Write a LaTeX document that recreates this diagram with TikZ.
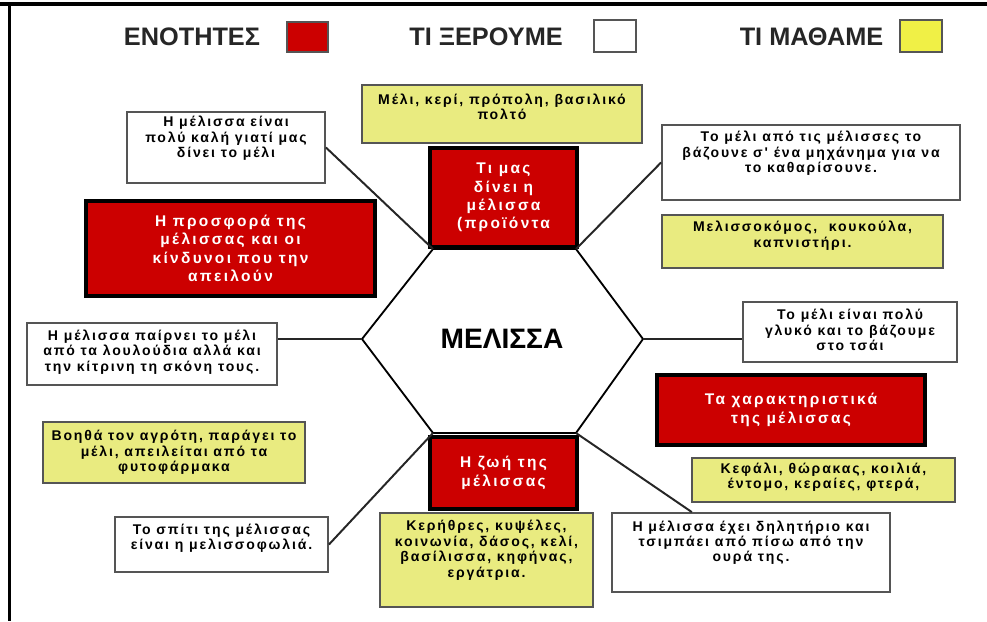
\documentclass[tikz,border=0pt]{standalone}
\usepackage{fontspec}
\setmainfont{Liberation Sans}
\newfontfamily\boxfont[LetterSpace=13]{Liberation Sans}
\newfontfamily\redfont[LetterSpace=15]{Liberation Sans}
\definecolor{beered}{RGB}{204,0,0}
\definecolor{beeyellow}{RGB}{233,235,128}
\definecolor{keyyellow}{RGB}{240,240,70}
\definecolor{boxgray}{RGB}{85,85,85}
\tikzset{
	keybox/.style={draw=boxgray,line width=1.3pt,minimum width=1.05cm,minimum height=0.8cm},
	wbox/.style={draw=boxgray,line width=1.3pt,fill=white,inner sep=0pt},
	ybox/.style={draw=boxgray,line width=1.3pt,fill=beeyellow,inner sep=0pt},
	rbox/.style={draw=black,line width=2.6pt,fill=beered,inner sep=0pt,text=white,align=center,
		font=\redfont\bfseries\fontsize{11}{13.1}\selectfont},
	txt/.style={align=center,inner sep=0pt,font=\boxfont\bfseries\fontsize{10}{11}\selectfont},
	hdr/.style={font=\bfseries\fontsize{18}{20}\selectfont,text=black!85},
	link/.style={line width=1.4pt,color=black!85}
}

\begin{document}
\begin{tikzpicture}[x=0.025cm,y=-0.025cm]
	\useasboundingbox (0,0) rectangle (987,621);
	% frame
	\draw[line width=3.5pt] (0,4) -- (987,4);
	\draw[line width=2.5pt] (9.5,4) -- (9.5,621);
	% key
	\node[hdr] (hdrunits) at (192,37) {ΕΝΟΤΗΤΕΣ};
	\node[keybox,fill=beered,minimum width=1.025cm,minimum height=0.75cm] (keyunits) at (307.5,37) {};
	\node[hdr] (hdrknow) at (486,37) {ΤΙ ΞΕΡΟΥΜΕ};
	\node[keybox,fill=white] (keyknow) at (615,36) {};
	\node[hdr] (hdrlearn) at (811.5,37) {ΤΙ ΜΑΘΑΜΕ};
	\node[keybox,fill=keyyellow] (keylearn) at (921,36) {};

	% hexagon
	\coordinate (hexL) at (362,339);
	\coordinate (hexUL) at (433,249);
	\coordinate (hexUR) at (576,249);
	\coordinate (hexR) at (643,339);
	\coordinate (hexLR) at (576,433);
	\coordinate (hexLL) at (433,433);
	\draw[line width=1.3pt,fill=white] (hexL) -- (hexUL) -- (hexUR) -- (hexR) -- (hexLR) -- (hexLL) -- cycle;
	\node[font=\bfseries\fontsize{20}{22}\selectfont] (bee) at (502,339) {ΜΕΛΙΣΣΑ};

	% what we learn
	\node[ybox,minimum width=7cm,minimum height=1.45cm,label={[txt,yshift=5pt]center:{Μέλι, κερί, πρόπολη, βασιλικό\\πολτό}}] (ytop) at (502,114) {};
	\node[ybox,minimum width=7.025cm,minimum height=1.325cm,label={[txt,yshift=4pt]center:{Μελισσοκόμος,\ \ κουκούλα,\\καπνιστήρι.}}] (yright) at (802.5,241.5) {};
	\node[ybox,minimum width=6.55cm,minimum height=1.525cm,label={[txt]center:{Βοηθά τον αγρότη, παράγει το\\μέλι, απειλείται από τα\\φυτοφάρμακα}}] (yleft) at (174,452.5) {};
	\node[ybox,minimum width=6.575cm,minimum height=1.1cm,label={[txt,yshift=2pt]center:{Κεφάλι, θώρακας, κοιλιά,\\έντομο, κεραίες, φτερά,}}] (yrbot) at (823.5,480) {};
	\node[ybox,minimum width=5.325cm,minimum height=2.35cm,label={[txt,yshift=7pt]center:{Κερήθρες, κυψέλες,\\κοινωνία, δάσος, κελί,\\βασίλισσα, κηφήνας,\\εργάτρια.}}] (ybot) at (486.5,560) {};

	% what we know
	\node[wbox,minimum width=4.95cm,minimum height=1.775cm,label={[txt,yshift=6.5pt]center:{Η μέλισσα είναι\\πολύ καλή γιατί μας\\δίνει το μέλι}}] (wtl) at (226,147.5) {};
	\node[wbox,minimum width=7.45cm,minimum height=1.875cm,label={[txt,yshift=6.5pt]center:{Το μέλι από τις μέλισσες το\\βάζουνε σ' ένα μηχάνημα για να\\το καθαρίσουνε.}}] (wtr) at (811,162.5) {};
	\node[wbox,minimum width=5.35cm,minimum height=1.5cm,label={[txt,yshift=1.5pt]center:{Το μέλι είναι πολύ\\γλυκό και το βάζουμε\\στο τσάι}}] (wright) at (850,332) {};
	\node[wbox,minimum width=6.25cm,minimum height=1.55cm,label={[txt,yshift=1.5pt]center:{Η μέλισσα παίρνει το μέλι\\από τα λουλούδια αλλά και\\την κίτρινη τη σκόνη τους.}}] (wleft) at (152,354) {};
	\node[wbox,minimum width=5.325cm,minimum height=1.375cm,label={[txt,yshift=4.5pt]center:{Το σπίτι της μέλισσας\\είναι η μελισσοφωλιά.}}] (wbl) at (221.5,544.5) {};
	\node[wbox,minimum width=6.95cm,minimum height=1.975cm,label={[txt,yshift=7pt]center:{Η μέλισσα έχει δηλητήριο και\\τσιμπάει από πίσω από την\\ουρά της.}}] (wbr) at (751,552.5) {};

	% units
	\node[rbox,minimum width=3.675cm,minimum height=2.475cm] (rtop) at (503.5,197.5) {Τι μας\\δίνει η\\μέλισσα\\(προϊόντα};
	\node[rbox,minimum width=7.225cm,minimum height=2.375cm] (rleft) at (230.5,248.5) {Η προσφορά της\\μέλισσας και οι\\κίνδυνοι που την\\απειλούν};
	\node[rbox,minimum width=6.7cm,minimum height=1.75cm] (rright) at (791,410) {Τα χαρακτηριστικά\\της μέλισσας};
	\node[rbox,minimum width=3.675cm,minimum height=1.8cm] (rbot) at (503.5,473) {Η ζωή της\\μέλισσας};

	% links
	\draw[link] (wtl.east) -- (hexUL);
	\draw[link] (wtr.west) -- (hexUR);
	\draw[link] (hexR) -- (hexR -| wright.west);
	\draw[link] (hexL) -- (hexL -| wleft.east);
	\draw[link] (wbl.east) -- (hexLL);
	\draw[link] (hexLR) -- (wbr);
\end{tikzpicture}
\end{document}
